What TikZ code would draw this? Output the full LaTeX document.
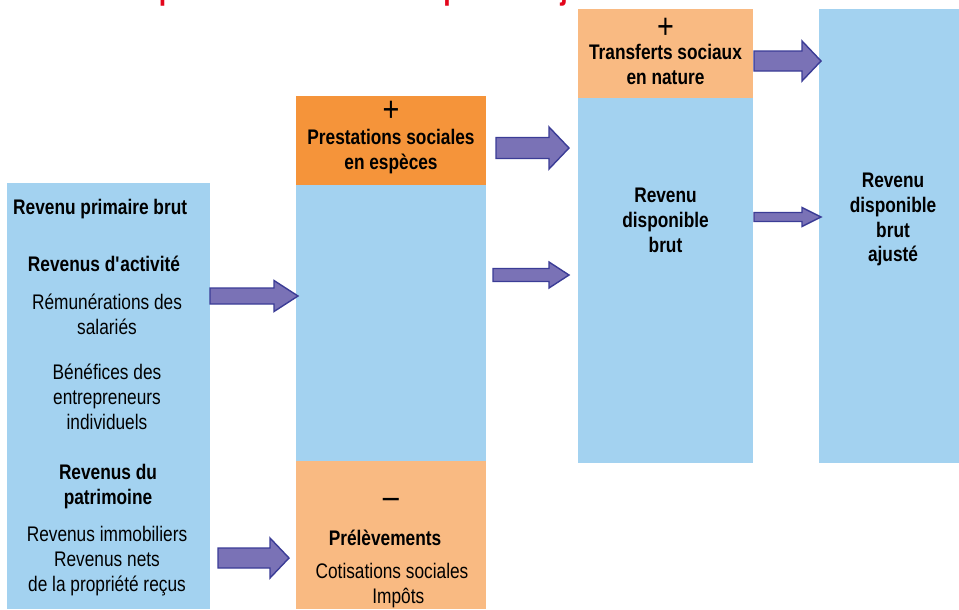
\documentclass[tikz,border=0pt]{standalone}
\usepackage{fontspec}
\setmainfont{Liberation Sans}[FakeStretch=0.82]
\usetikzlibrary{calc}

\definecolor{ciel}{HTML}{A3D2F0}
\definecolor{orangefort}{HTML}{F5943A}
\definecolor{orangeclair}{HTML}{F9BA82}
\definecolor{violet}{HTML}{7A72B6}
\definecolor{violetfonce}{HTML}{3B3C96}
\definecolor{rouge}{HTML}{E3051B}

\tikzset{
    bloc/.style={inner sep=0pt, outer sep=0pt},
    txt/.style={align=center, font=\fontsize{12}{14.2}\selectfont},
    gras/.style={align=center, font=\fontsize{12}{14.2}\selectfont\bfseries},
    fleche/.style={fill=violet, draw=violetfonce, line width=0.8pt, line join=miter},
}

% grosse fleche : depart, arrivee, demi-fut, demi-tete, longueur de tete
\newcommand{\fatarrow}[5]{%
    \filldraw[fleche] ($(#1)+(0,-#3)$) -- ($(#2)+(-#5,-#3)$) -- ($(#2)+(-#5,-#4)$)
        -- (#2) -- ($(#2)+(-#5,#4)$) -- ($(#2)+(-#5,#3)$) -- ($(#1)+(0,#3)$) -- cycle;}

\begin{document}
\begin{tikzpicture}[x=0.02cm, y=-0.02cm]
    \useasboundingbox (0,0) rectangle (959,609);
    \node[anchor=base west, text=rouge, font=\fontsize{18.5}{20}\selectfont\bfseries] (titre) at (15,-1) {Du revenu primaire au revenu disponible ajusté};

    \node[bloc, fill=ciel, minimum width=4.06cm, minimum height=8.52cm] (prim) at (108.5,396) {};
    \node[bloc, fill=orangefort, minimum width=3.8cm, minimum height=1.78cm] (pse) at (391,140.5) {};
    \node[bloc, fill=ciel, minimum width=3.8cm, minimum height=5.52cm] (mid) at (391,323) {};
    \node[bloc, fill=orangeclair, minimum width=3.8cm, minimum height=2.96cm] (prel) at (391,535) {};
    \node[bloc, fill=orangeclair, minimum width=3.5cm, minimum height=1.78cm] (tsn) at (665.5,53.5) {};
    \node[bloc, fill=ciel, minimum width=3.5cm, minimum height=7.3cm] (rdb) at (665.5,280.5) {};
    \node[bloc, fill=ciel, minimum width=2.8cm, minimum height=9.08cm] (rdba) at (889,236) {};

    % revenu primaire
    \node[gras, anchor=west] (rpb) at (7,209) {Revenu primaire brut};
    \node[gras] (ract) at (104,264) {Revenus d\textquotesingle activité};
    \node[txt] (remu) at (107,314.5) {Rémunérations des\\salariés};
    \node[txt] (bene) at (107,396.5) {Bénéfices des\\entrepreneurs\\individuels};
    \node[gras] (rpat) at (108,487) {Revenus du\\patrimoine};
    \node[txt] (rimm) at (107,561) {Revenus immobiliers\\Revenus nets\\de la propriété reçus};

    % colonne 2
    \node[gras, font=\fontsize{20}{20}\selectfont] (plus1) at (391,111) {+};
    \node[gras] (prest) at (391,152) {Prestations sociales\\en espèces};
    \node[gras, font=\fontsize{20}{20}\selectfont] (moins) at (391,503) {--};
    \node[gras] (prelt) at (385,538) {Prélèvements};
    \node[txt] (cotis) at (392,586) {Cotisations sociales\\\hspace*{0.6em}Impôts};

    % colonne 3
    \node[gras, font=\fontsize{20}{20}\selectfont] (plus2) at (665.5,28) {+};
    \node[gras] (transf) at (665.5,64.5) {Transferts sociaux\\en nature};
    \node[gras] (rdbt) at (665.5,220) {Revenu\\disponible\\brut};

    % colonne 4
    \node[gras] (rdbat) at (893,219.5) {Revenu\\disponible\\brut\\ajusté};

    % fleches
    \coordinate (a1s) at (210,296);  \coordinate (a1e) at (298,296);
    \coordinate (a2s) at (218,558);  \coordinate (a2e) at (289,558);
    \coordinate (a3s) at (496,148);  \coordinate (a3e) at (569,148);
    \coordinate (a4s) at (493,275);  \coordinate (a4e) at (569,275);
    \coordinate (a5s) at (754,61);   \coordinate (a5e) at (821,61);
    \coordinate (a6s) at (754,217);  \coordinate (a6e) at (821,217);
    \fatarrow{a1s}{a1e}{8}{15.5}{24}
    \fatarrow{a2s}{a2e}{10}{20}{19}
    \fatarrow{a3s}{a3e}{10.5}{21}{20}
    \fatarrow{a4s}{a4e}{6.5}{13}{20}
    \fatarrow{a5s}{a5e}{10}{20}{19}
    \fatarrow{a6s}{a6e}{4.5}{9.5}{19}
\end{tikzpicture}
\end{document}
